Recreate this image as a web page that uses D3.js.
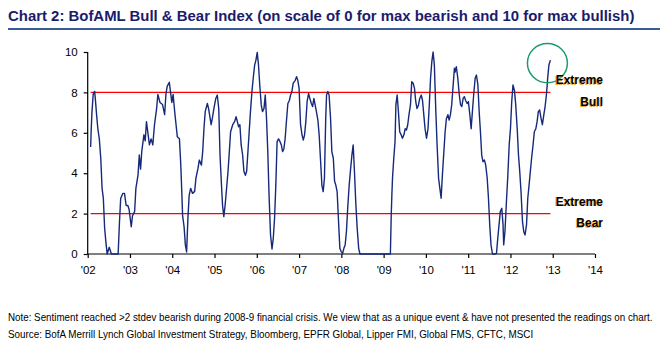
<!DOCTYPE html>
<html>
<head>
<meta charset="utf-8">
<script src="https://cdn.jsdelivr.net/npm/d3@7"></script>
<style>
  html, body { margin: 0; padding: 0; background: #fff; }
  svg { display: block; }
</style>
</head>
<body>
<svg id="chart" width="660" height="350"></svg>
<script>
// BofAML Bull & Bear Index (decimal year, index value)
const weekDates = [
  2002.07, 2002.08, 2002.10, 2002.13, 2002.165, 2002.18, 2002.21, 2002.24, 2002.275, 2002.31,
  2002.34, 2002.37, 2002.40, 2002.43, 2002.46, 2002.51, 2002.56, 2002.64, 2002.72, 2002.75,
  2002.78, 2002.83, 2002.87, 2002.91, 2002.95, 2002.98, 2003.03, 2003.06, 2003.11, 2003.14,
  2003.19, 2003.22, 2003.25, 2003.28, 2003.33, 2003.36, 2003.39, 2003.43, 2003.46, 2003.50,
  2003.54, 2003.58, 2003.63, 2003.66, 2003.71, 2003.77, 2003.82, 2003.85, 2003.88, 2003.93,
  2003.96, 2003.99, 2004.02, 2004.06, 2004.09, 2004.12, 2004.17, 2004.20, 2004.22, 2004.245,
  2004.28, 2004.31, 2004.34, 2004.37, 2004.40, 2004.435, 2004.48, 2004.53, 2004.56, 2004.61,
  2004.64, 2004.69, 2004.72, 2004.75, 2004.78, 2004.83, 2004.86, 2004.89, 2004.92, 2004.955,
  2004.985, 2005.03, 2005.065, 2005.10, 2005.13, 2005.16, 2005.19, 2005.22, 2005.25, 2005.285,
  2005.32, 2005.35, 2005.38, 2005.43, 2005.475, 2005.51, 2005.54, 2005.57, 2005.60, 2005.63,
  2005.665, 2005.695, 2005.73, 2005.76, 2005.79, 2005.82, 2005.85, 2005.885, 2005.915, 2005.95,
  2005.98, 2006.01, 2006.04, 2006.07, 2006.105, 2006.135, 2006.17, 2006.20, 2006.23, 2006.26,
  2006.29, 2006.325, 2006.36, 2006.39, 2006.42, 2006.45, 2006.48, 2006.515, 2006.55, 2006.58,
  2006.61, 2006.64, 2006.67, 2006.70, 2006.735, 2006.77, 2006.80, 2006.83, 2006.86, 2006.91,
  2006.94, 2006.97, 2007.00, 2007.035, 2007.07, 2007.10, 2007.13, 2007.16, 2007.19, 2007.225,
  2007.255, 2007.29, 2007.32, 2007.35, 2007.38, 2007.41, 2007.445, 2007.475, 2007.51, 2007.54,
  2007.57, 2007.60, 2007.63, 2007.65, 2007.68, 2007.71, 2007.745, 2007.775, 2007.81, 2007.84,
  2007.87, 2007.90, 2007.93, 2007.965, 2007.995, 2008.03, 2008.06, 2008.09, 2008.12, 2008.15,
  2008.185, 2008.22, 2008.25, 2008.28, 2008.31, 2008.34, 2008.375, 2008.41, 2008.44, 2008.80,
  2009.16, 2009.18, 2009.195, 2009.21, 2009.24, 2009.27, 2009.29, 2009.32, 2009.35, 2009.38,
  2009.415, 2009.445, 2009.48, 2009.51, 2009.54, 2009.57, 2009.60, 2009.635, 2009.665, 2009.70,
  2009.73, 2009.76, 2009.79, 2009.825, 2009.855, 2009.89, 2009.92, 2009.95, 2009.98, 2010.015,
  2010.05, 2010.08, 2010.11, 2010.14, 2010.17, 2010.20, 2010.235, 2010.265, 2010.30, 2010.33,
  2010.36, 2010.39, 2010.42, 2010.455, 2010.485, 2010.52, 2010.55, 2010.58, 2010.61, 2010.645,
  2010.675, 2010.69, 2010.72, 2010.755, 2010.79, 2010.82, 2010.85, 2010.88, 2010.91, 2010.94,
  2010.975, 2011.005, 2011.04, 2011.07, 2011.10, 2011.13, 2011.165, 2011.195, 2011.23, 2011.26,
  2011.29, 2011.32, 2011.35, 2011.385, 2011.415, 2011.45, 2011.48, 2011.51, 2011.54, 2011.575,
  2011.605, 2011.64, 2011.67, 2011.70, 2011.73, 2011.76, 2011.795, 2011.825, 2011.84, 2011.87,
  2011.905, 2011.935, 2011.97, 2012.00, 2012.03, 2012.06, 2012.095, 2012.125, 2012.16, 2012.19,
  2012.22, 2012.25, 2012.285, 2012.315, 2012.345, 2012.38, 2012.41, 2012.44, 2012.47, 2012.50,
  2012.535, 2012.565, 2012.60, 2012.63, 2012.66, 2012.69, 2012.725, 2012.755, 2012.79, 2012.82,
  2012.85, 2012.87, 2012.88, 2012.91, 2012.945
];
const bullBear = [
  5.3, 6.0, 7.0, 7.9, 8.05, 7.7, 6.9, 6.2, 5.7, 4.7,
  3.25, 2.75, 1.3, 0.6, 0.0, 0.33, 0.0, 0.0, 0.0, 1.5,
  2.75, 3.0, 3.0, 2.4, 2.4, 2.2, 1.35, 1.9, 2.1, 3.25,
  3.9, 4.9, 4.2, 5.1, 5.9, 5.6, 6.55, 5.9, 5.4, 5.7,
  5.4, 6.4, 7.2, 7.9, 7.5, 7.4, 6.9, 7.9, 8.3, 8.5,
  8.0, 7.5, 7.9, 7.0, 6.4, 5.8, 5.7, 4.5, 3.4, 1.9,
  1.35, 0.45, 0.1, 1.75, 2.9, 3.25, 3.0, 3.1, 3.75, 4.25,
  4.65, 4.4, 5.07, 6.2, 7.05, 7.45, 7.2, 6.8, 6.4, 6.8,
  7.2, 7.7, 7.87, 7.2, 4.9, 3.6, 2.4, 1.85, 2.4, 3.25,
  4.1, 5.07, 6.05, 6.4, 6.55, 6.8, 6.55, 6.3, 6.4, 5.4,
  4.9, 4.1, 3.9, 4.1, 5.07, 6.05, 7.05, 8.04, 8.7, 9.36,
  9.6, 9.98, 9.36, 8.37, 7.38, 7.05, 7.2, 7.87, 6.7, 5.07,
  2.9, 0.94, 0.25, 0.78, 1.77, 3.4, 5.56, 5.7, 5.56, 5.4,
  5.07, 5.2, 5.7, 6.55, 7.45, 7.6, 7.87, 8.04, 8.45, 8.6,
  8.78, 8.6, 8.2, 6.4, 5.9, 5.64, 5.9, 6.55, 7.54, 7.95,
  7.7, 7.45, 7.3, 7.7, 7.38, 7.05, 6.63, 5.9, 4.57, 3.4,
  3.09, 3.75, 6.7, 7.87, 8.04, 7.87, 6.7, 5.07, 4.74, 3.6,
  3.4, 3.09, 1.77, 0.28, 0.12, 0.03, 0.28, 0.45, 1.1, 2.26,
  3.4, 4.24, 4.9, 5.4, 4.08, 2.6, 1.27, 0.28, 0.0, 0.0,
  0.0, 1.93, 2.92, 3.75, 4.74, 5.56, 7.38, 7.87, 7.05, 6.05,
  5.9, 5.73, 5.9, 6.2, 6.14, 6.4, 6.9, 7.38, 8.53, 8.45,
  8.2, 7.54, 7.2, 7.38, 7.7, 7.87, 7.6, 6.9, 6.2, 5.73,
  6.2, 7.38, 8.7, 9.52, 10.0, 9.36, 7.05, 5.4, 3.75, 3.25,
  2.76, 3.9, 4.9, 6.05, 6.7, 6.9, 6.63, 6.9, 7.38, 8.37,
  9.2, 9.0, 9.27, 8.7, 7.87, 7.38, 7.3, 7.7, 7.79, 7.6,
  7.45, 7.54, 6.88, 6.2, 7.05, 7.87, 8.7, 8.86, 8.37, 7.05,
  6.05, 4.9, 4.57, 4.65, 4.4, 3.75, 2.76, 1.44, 0.45, 0.0,
  0.0, 0.0, 0.03, 0.78, 1.44, 2.1, 2.26, 1.44, 0.45, 1.1,
  2.6, 3.75, 5.4, 6.2, 7.54, 8.37, 8.1, 7.38, 6.2, 4.9,
  4.08, 3.09, 1.6, 1.1, 0.94, 1.44, 2.76, 3.4, 4.08, 4.74,
  5.4, 6.05, 6.2, 6.55, 7.05, 7.13, 6.7, 6.4, 6.9, 7.3,
  7.87, 8.37, 8.7, 9.36, 9.6
];
const extremeBull = 8;
const extremeBear = 2;
const yearTicks = d3.range(2002, 2015);
const yearLabels = ["'02", "'03", "'04", "'05", "'06", "'07", "'08", "'09", "'10", "'11", "'12", "'13", "'14"];
const valueTicks = [0, 2, 4, 6, 8, 10];

const titleText = 'Chart 2: BofAML Bull & Bear Index (on scale of 0 for max bearish and 10 for max bullish)';
const noteText = 'Note: Sentiment reached >2 stdev bearish during 2008-9 financial crisis. We view that as a unique event & have not presented the readings on chart.';
const sourceText = 'Source: BofA Merrill Lynch Global Investment Strategy, Bloomberg, EPFR Global, Lipper FMI, Global FMS, CFTC, MSCI';

const svg = d3.select('#chart');
const sans = '"Liberation Sans", Arial, sans-serif';

const x = d3.scaleLinear().domain([2002, 2014]).range([87.7, 595]);
const y = d3.scaleLinear().domain([0, 10]).range([254, 52]);

// narrow text: draw in Arial-like font, then squeeze horizontally to the wanted width
function narrowText(str, left, base, width, size, weight, color) {
    const g = svg.append('g');
    const t = g.append('text')
        .attr('x', 0).attr('y', 0)
        .style('font-family', sans).style('font-weight', weight)
        .style('font-size', size + 'px').style('fill', color)
        .text(str);
    const w = t.node().getComputedTextLength();
    g.attr('transform', `translate(${left},${base}) scale(${width / w},1)`);
}

// title + rule
narrowText(titleText, 8, 21, 627, 15.5, 'bold', '#1b1b6c');

svg.append('rect')
    .attr('x', 8).attr('y', 28).attr('width', 652).attr('height', 2)
    .style('fill', '#3d5a98');

// axes
const yAxis = d3.axisLeft(y).tickValues(valueTicks).tickSize(4).tickPadding(6);
const xAxis = d3.axisBottom(x).tickValues(yearTicks).tickSize(4).tickPadding(8)
    .tickFormat((d, i) => yearLabels[i]);

const gy = svg.append('g').attr('transform', `translate(${x(2002)},0)`).call(yAxis);
const gx = svg.append('g').attr('transform', `translate(0,${y(0)})`).call(xAxis);

[gx, gy].forEach(g => {
    g.select('.domain').attr('stroke', '#000').attr('stroke-width', 1.2);
    g.selectAll('.tick line').attr('stroke', '#000').attr('stroke-width', 1.2);
    g.selectAll('text')
        .style('font-family', sans).style('font-size', '11.5px').style('fill', '#000');
});
gx.select('.domain').attr('d', `M${x(2002)},0H${x(2014)}`);
gy.select('.domain').attr('d', `M0,${y(10)}V${y(0)}`);

// extreme thresholds
const first = weekDates[0], last = weekDates[weekDates.length - 1];
[extremeBull, extremeBear].forEach(v => {
    svg.append('line')
        .attr('x1', x(first)).attr('x2', x(last))
        .attr('y1', y(v)).attr('y2', y(v))
        .style('stroke', '#ff0000').style('stroke-width', 1.2);
});

// index line
const pts = weekDates.map((d, i) => [d, bullBear[i]]);
const line = d3.line().x(d => x(d[0])).y(d => y(d[1]));

svg.append('path')
    .datum(pts)
    .attr('d', line)
    .style('fill', 'none')
    .style('stroke', '#16297a')
    .style('stroke-width', 1.4)
    .style('stroke-linejoin', 'round');

// highlight circle on the latest reading
svg.append('ellipse')
    .attr('cx', x(last) - 3).attr('cy', y(9.45))
    .attr('rx', 20).attr('ry', 19.7)
    .style('fill', 'none').style('stroke', '#1d9a70').style('stroke-width', 1.5);

// labels
const labels = [
    { text: 'Extreme', v: extremeBull, dy: -8 },
    { text: 'Bull', v: extremeBull, dy: 14 },
    { text: 'Extreme', v: extremeBear, dy: -8 },
    { text: 'Bear', v: extremeBear, dy: 13.5 }
];
labels.forEach(l => {
    [['#f2a93b', -0.8, 0.8], ['#000', 0, 0]].forEach(([c, ox, oy]) => {
        svg.append('text')
            .attr('x', 603 + ox).attr('y', y(l.v) + l.dy + oy)
            .attr('text-anchor', 'end')
            .style('font-family', sans).style('font-weight', 'bold')
            .style('font-size', '12px').style('fill', c)
            .text(l.text);
    });
});

// footnotes
narrowText(noteText, 8, 321, 645, 11, 'normal', '#000');
narrowText(sourceText, 8, 338, 526, 11, 'normal', '#000');
</script>
</body>
</html>
